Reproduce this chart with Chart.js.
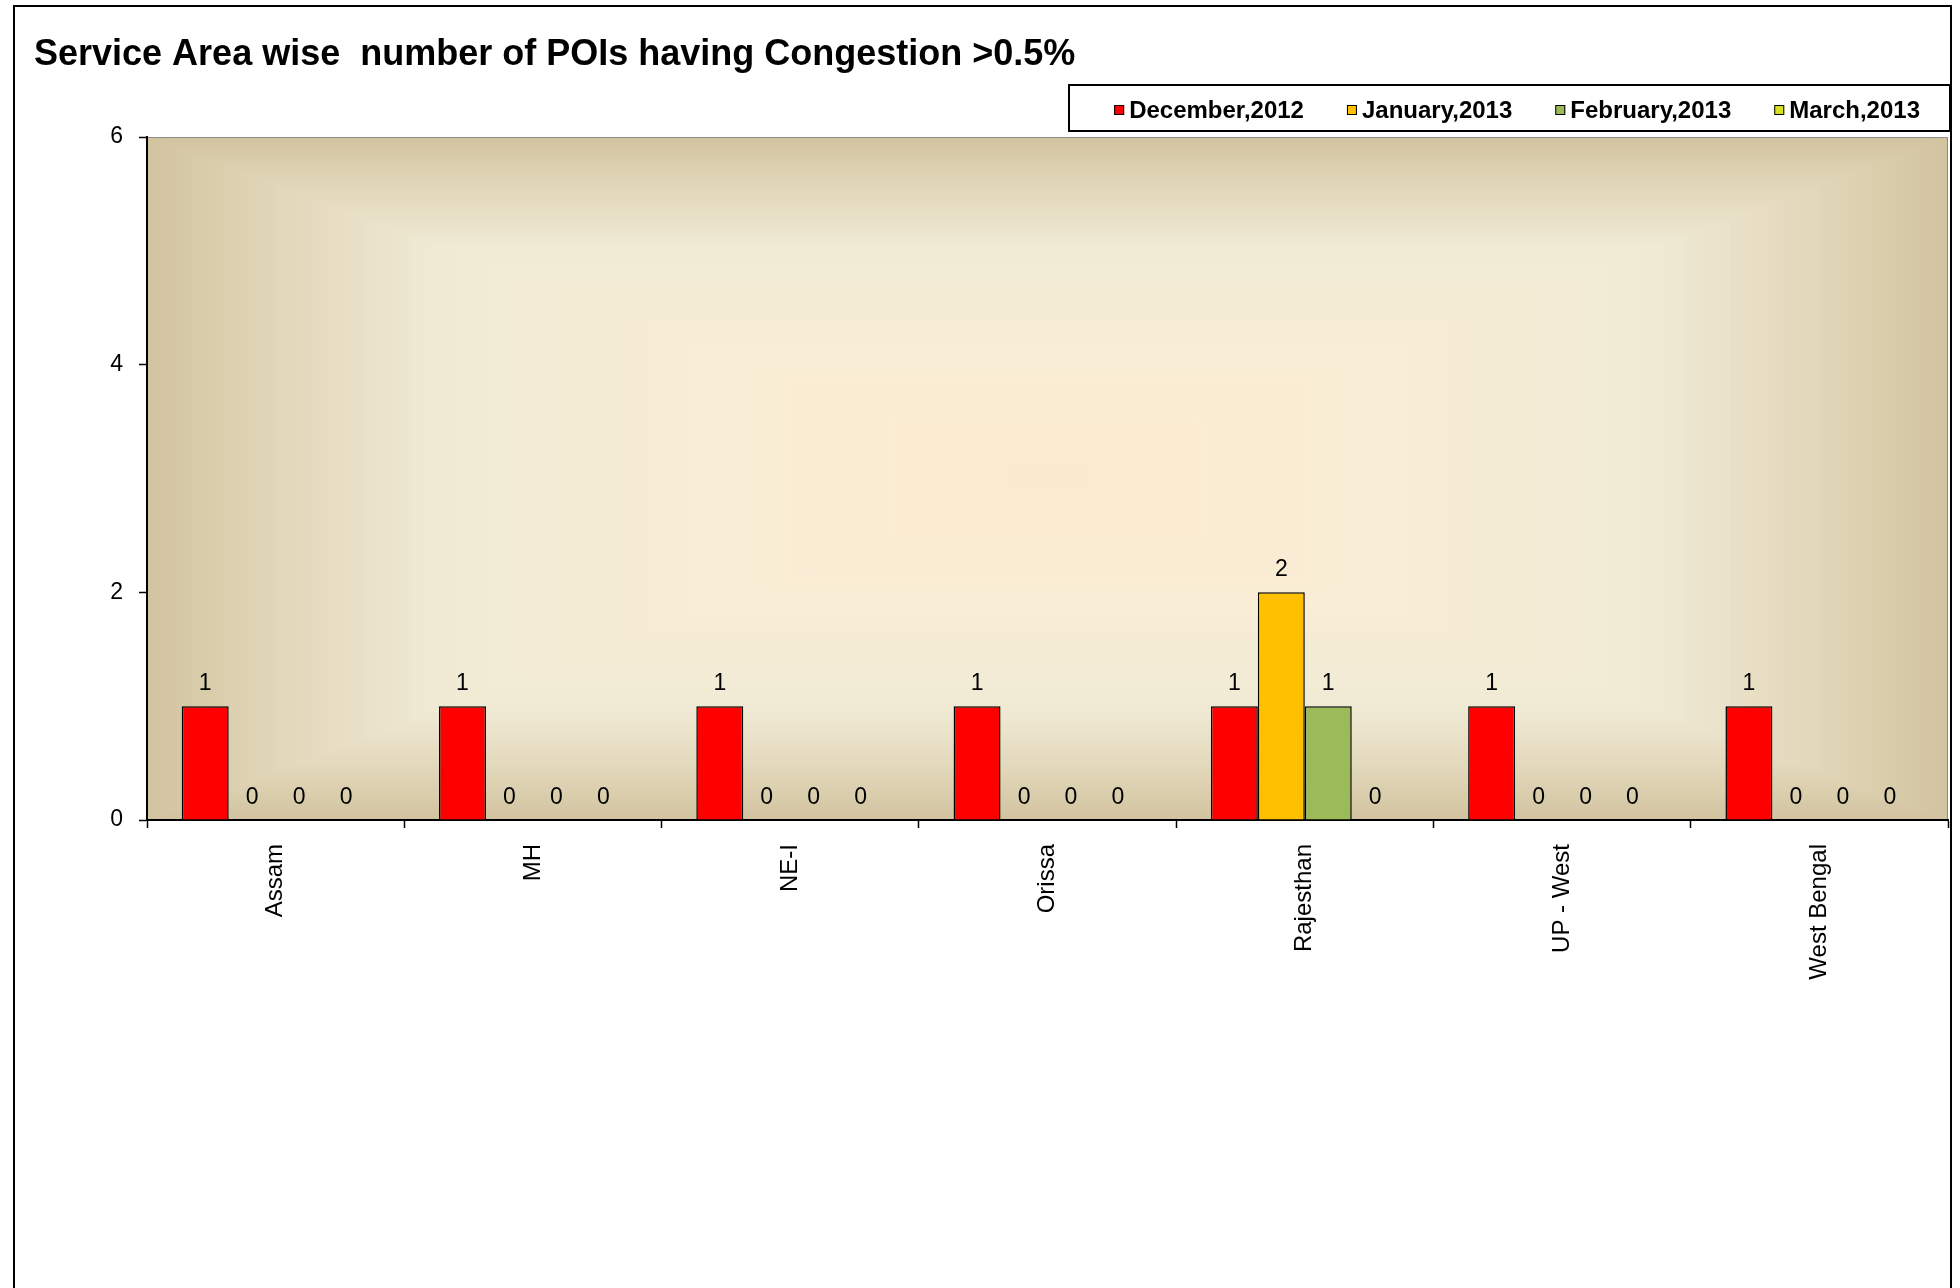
<!DOCTYPE html>
<html>
<head>
<meta charset="utf-8">
<title>Service Area wise number of POIs having Congestion</title>
<script src="https://cdn.jsdelivr.net/npm/chart.js@4.4.0/dist/chart.umd.min.js"></script>
<style>
    html, body { margin: 0; padding: 0; background: #ffffff; }
    #wrap { width: 1960px; height: 1288px; }
</style>
</head>
<body>
<div id="wrap"><canvas id="poiChart" width="1960" height="1288"></canvas></div>
<script>
// chart data
const serviceAreas = ["Assam", "MH", "NE-I", "Orissa", "Rajesthan", "UP - West", "West Bengal"];
const dec2012 = [1, 1, 1, 1, 1, 1, 1];
const jan2013 = [0, 0, 0, 0, 2, 0, 0];
const feb2013 = [0, 0, 0, 0, 1, 0, 0];
const mar2013 = [0, 0, 0, 0, 0, 0, 0];
const seriesNames = ["December,2012", "January,2013", "February,2013", "March,2013"];
const seriesColors = ["#FF0000", "#FFC000", "#9BBB59", "#D9E021"];
const yTicks = [0, 2, 4, 6];

const FONT = "'Liberation Sans', Arial, sans-serif";
Chart.defaults.font.family = FONT;
Chart.defaults.color = "#000";

// white page, outer frame and the tan "from center" fill of the plot area
const backdrop = {
    id: "backdrop",
    beforeDraw(chart) {
        const { ctx, chartArea: { left, top, width, height } } = chart;
        ctx.save();
        ctx.fillStyle = "#fff";
        ctx.fillRect(0, 0, chart.width, chart.height);

        const stops = [
            [0, [252, 234, 206]],
            [0.35, [249, 237, 213]],
            [0.68, [240, 234, 213]],
            [0.84, [227, 217, 188]],
            [1, [210, 196, 160]],
        ];
        function colorAt(t) {
            for (let i = 1; i < stops.length; i++) {
                if (t <= stops[i][0]) {
                    const a = stops[i - 1], b = stops[i];
                    const f = (t - a[0]) / (b[0] - a[0]);
                    const c = a[1].map((v, k) => Math.round(v + (b[1][k] - v) * f));
                    return "rgb(" + c.join(",") + ")";
                }
            }
            return "rgb(" + stops[stops.length - 1][1].join(",") + ")";
        }
        const steps = 120;
        for (let i = 0; i < steps; i++) {
            const t = 1 - i / steps;
            const w = width * t, h = height * t;
            ctx.fillStyle = colorAt(t);
            ctx.fillRect(left + (width - w) / 2, top + (height - h) / 2, w, h);
        }
        ctx.strokeStyle = "#8c8c8c";
        ctx.lineWidth = 1;
        ctx.strokeRect(left + 0.5, top + 0.5, width - 1, height);

        // outer chart frame (open at the bottom)
        ctx.strokeStyle = "#000";
        ctx.lineWidth = 2;
        ctx.beginPath();
        ctx.moveTo(14, chart.height + 5);
        ctx.lineTo(14, 6);
        ctx.lineTo(1951, 6);
        ctx.lineTo(1951, chart.height + 5);
        ctx.stroke();
        ctx.restore();
    },
};

// value labels above every bar
const valueLabels = {
    id: "valueLabels",
    afterDatasetsDraw(chart) {
        const ctx = chart.ctx;
        ctx.save();
        ctx.font = "23px " + FONT;
        ctx.fillStyle = "#000";
        ctx.textAlign = "center";
        ctx.textBaseline = "bottom";
        chart.data.datasets.forEach((ds, i) => {
            chart.getDatasetMeta(i).data.forEach((bar, j) => {
                ctx.fillText(String(ds.data[j]), bar.x, bar.y - 11);
            });
        });
        ctx.restore();
    },
};

// boxed legend at the top right
const boxedLegend = {
    id: "boxedLegend",
    afterDraw(chart, args, opts) {
        const ctx = chart.ctx;
        ctx.save();
        ctx.strokeStyle = "#000";
        ctx.lineWidth = 2;
        ctx.strokeRect(opts.x, opts.y, opts.w, opts.h);

        ctx.font = "bold 24px " + FONT;
        ctx.textBaseline = "middle";
        ctx.textAlign = "left";
        const cy = opts.y + opts.h / 2 + 2;
        const box = 10, gapText = 5, gapItem = 43;
        const items = chart.data.datasets.map((ds) => ({
            label: ds.label,
            color: ds.backgroundColor,
            w: ctx.measureText(ds.label).width,
        }));
        let total = 0;
        items.forEach((it, i) => {
            total += box + gapText + it.w + (i > 0 ? gapItem : 0);
        });
        let x = opts.textRight - total;
        items.forEach((it) => {
            ctx.fillStyle = it.color;
            ctx.fillRect(x, cy - box / 2, box, box);
            ctx.lineWidth = 1;
            ctx.strokeStyle = "#000";
            ctx.strokeRect(x + 0.5, cy - box / 2 + 0.5, box - 1, box - 1);
            ctx.fillStyle = "#000";
            ctx.fillText(it.label, x + box + gapText, cy + 1);
            x += box + gapText + it.w + gapItem;
        });
        ctx.restore();
    },
};

const seriesData = [dec2012, jan2013, feb2013, mar2013];

new Chart(document.getElementById("poiChart"), {
    type: "bar",
    data: {
        labels: serviceAreas,
        datasets: seriesData.map((vals, i) => ({
            label: seriesNames[i],
            data: vals,
            backgroundColor: seriesColors[i],
            borderColor: "#000",
            borderWidth: 1.5,
            barPercentage: 1,
            categoryPercentage: 0.73,
        })),
    },
    options: {
        responsive: false,
        animation: false,
        devicePixelRatio: 1,
        layout: {
            padding: { left: 34, right: 12, top: 0, bottom: 0 },
        },
        scales: {
            x: {
                grid: {
                    offset: true,
                    drawOnChartArea: false,
                    drawTicks: true,
                    tickLength: 8,
                    tickColor: "#000",
                    tickWidth: 1.5,
                },
                border: { color: "#000", width: 2 },
                ticks: {
                    minRotation: 90,
                    maxRotation: 90,
                    padding: 16,
                    color: "#000",
                    font: { size: 24 },
                },
                afterFit(scale) {
                    scale.height = 468;
                },
            },
            y: {
                min: 0,
                max: 6,
                afterBuildTicks(scale) {
                    scale.ticks = yTicks.map((v) => ({ value: v }));
                },
                grid: {
                    drawOnChartArea: false,
                    drawTicks: true,
                    tickLength: 8,
                    tickColor: "#000",
                    tickWidth: 1.5,
                },
                border: { color: "#000", width: 2 },
                ticks: {
                    padding: 16,
                    color: "#000",
                    font: { size: 23 },
                },
                afterFit(scale) {
                    scale.width = 113;
                },
            },
        },
        plugins: {
            legend: { display: false },
            tooltip: { enabled: false },
            title: {
                display: true,
                text: "Service Area wise  number of POIs having Congestion >0.5%",
                align: "start",
                color: "#000",
                font: { size: 36, weight: "bold", lineHeight: 1 },
                padding: { top: 37, bottom: 64 },
            },
            boxedLegend: { x: 1069, y: 85, w: 881, h: 46, textRight: 1920 },
        },
    },
    plugins: [backdrop, valueLabels, boxedLegend],
});
</script>
</body>
</html>
